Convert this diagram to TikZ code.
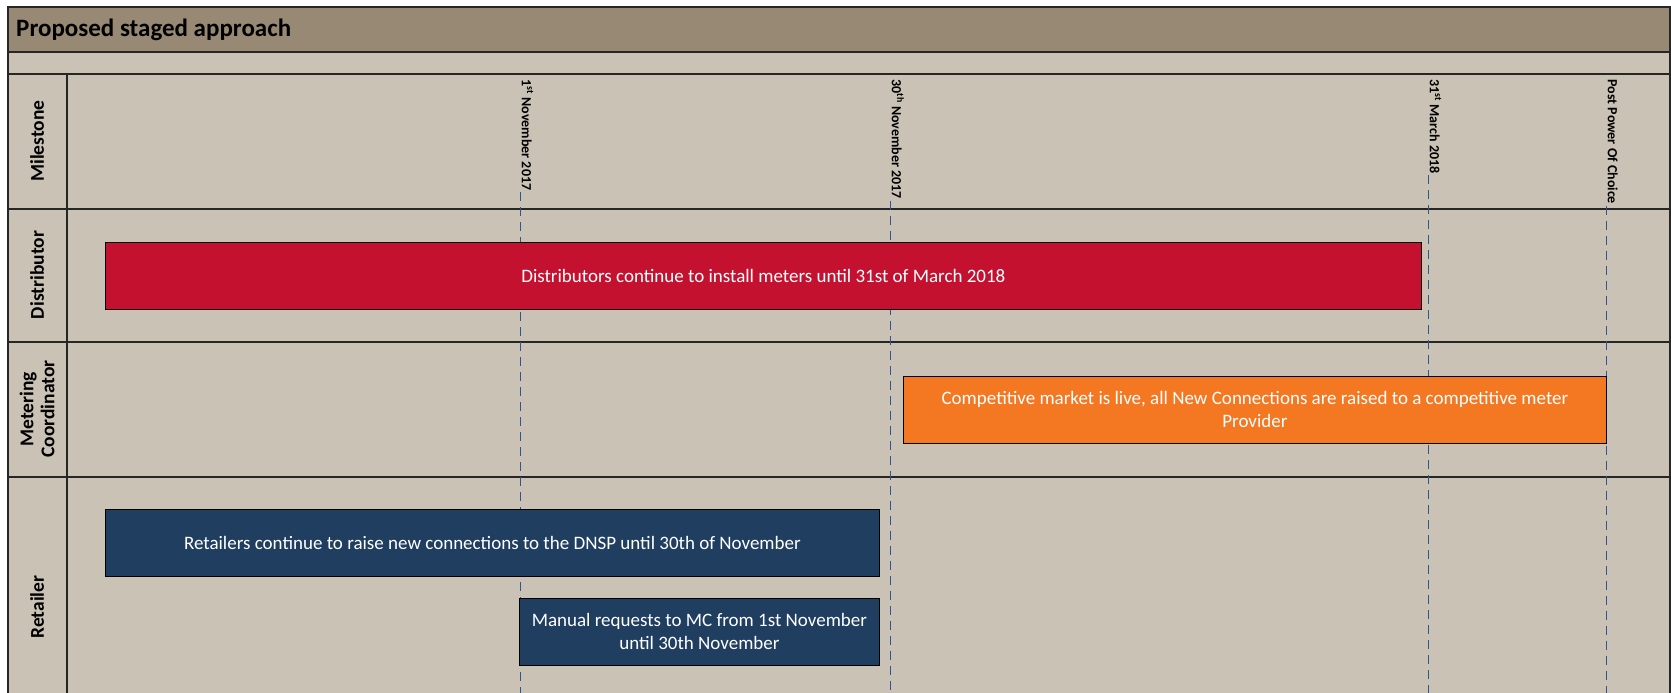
\documentclass[tikz,border=0pt]{standalone}
\usepackage{fontspec}
\setmainfont{Carlito}
\usetikzlibrary{positioning}

\definecolor{panel}{RGB}{201,194,181}
\definecolor{titlebg}{RGB}{151,137,115}
\definecolor{distred}{RGB}{197,17,48}
\definecolor{mcorange}{RGB}{244,119,33}
\definecolor{retnavy}{RGB}{31,62,96}
\definecolor{mblue}{RGB}{47,85,151}

\begin{document}
\begin{tikzpicture}[x=1pt, y=-1pt,
  bar/.style={draw=black, line width=0.8pt, minimum height=67pt, align=center, text=white, font=\fontsize{19}{23}\selectfont, inner sep=2pt},
  rowlab/.style={rotate=90, align=center, font=\bfseries\fontsize{19.5}{21}\selectfont},
  mstone/.style={rotate=-90, anchor=south west, inner sep=1.5pt, font=\bfseries\fontsize{14}{16}\selectfont},
  mline/.style={draw=mblue, dash pattern=on 9pt off 6pt, line width=0.9pt},
  grid/.style={line width=1.2pt, draw=black!85}
]
  \clip (0,0) rectangle (1671,693);
  \fill[white] (0,0) rectangle (1671,693);
  \fill[panel] (8,7) rectangle (1670,710);
  \fill[titlebg] (8,7) rectangle (1670,52);
  \coordinate (bot) at (0,693);

  % table lines
  \draw[grid] (8,7) rectangle (1670,710);
  \draw[grid] (8,52) -- (1670,52);
  \draw[grid] (8,74) -- (1670,74);
  \draw[grid] (8,209) -- (1670,209);
  \draw[grid] (8,342) -- (1670,342);
  \draw[grid] (8,477) -- (1670,477);
  \draw[grid] (67,74) -- (67,710);

  \node[anchor=west, inner sep=0pt, font=\bfseries\fontsize{25}{29}\selectfont] (title) at (16,30) {Proposed staged approach};

  % row labels
  \node[rowlab] (lmile) at (37,141) {Milestone};
  \node[rowlab] (ldist) at (37,275) {Distributor};
  \node[rowlab] (lmc) at (37,409) {Metering\\Coordinator};
  \node[rowlab] (lret) at (37,607) {Retailer};

  % milestones
  \node[mstone] (m1) at (520,78) {1\textsuperscript{st} November 2017};
  \node[mstone] (m2) at (890,78) {30\textsuperscript{th} November 2017};
  \node[mstone] (m3) at (1428,78) {31\textsuperscript{st} March 2018};
  \node[mstone] (m4) at (1606,78) {Post Power Of Choice};
  \draw[mline] (m1.south east) -- (m1.south east |- bot);
  \draw[mline] (m2.south east) -- (m2.south east |- bot);
  \draw[mline] (m3.south east) -- (m3.south east |- bot);
  \draw[mline] (m4.south east) -- (m4.south east |- bot);

  % bars
  \node[bar, fill=distred, minimum width=1316pt, anchor=north west] (dist) at (105,242) {Distributors continue to install meters until 31st of March 2018};
  \node[bar, fill=mcorange, minimum width=703pt, anchor=north west] (mc) at (903,376) {Competitive market is live, all New Connections are raised to a competitive meter\\Provider};
  \node[bar, fill=retnavy, minimum width=774pt, anchor=north west] (ret1) at (105,509) {Retailers continue to raise new connections to the DNSP until 30th of November};
  \node[bar, fill=retnavy, minimum width=360pt, below=21pt of ret1.south east, anchor=north east] (ret2) {Manual requests to MC from 1st November\\until 30th November};
\end{tikzpicture}
\end{document}
